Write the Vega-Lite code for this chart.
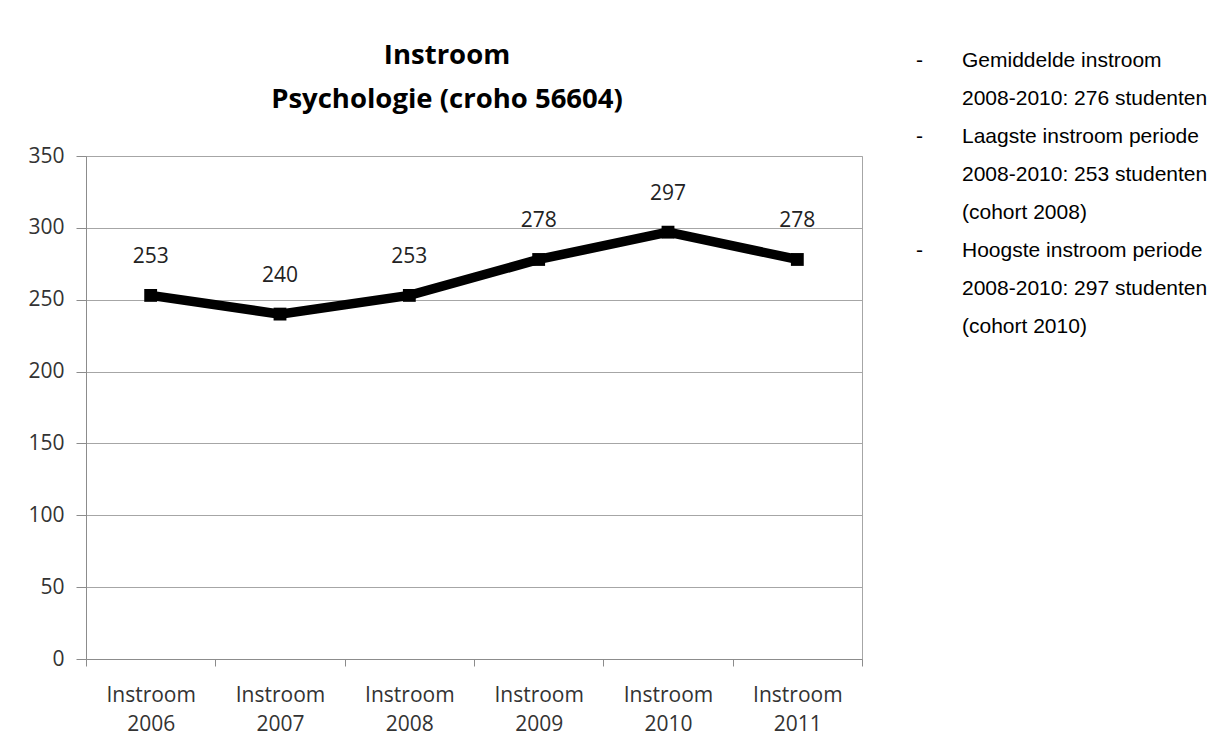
{
  "$schema": "https://vega.github.io/schema/vega-lite/v6.json",
  "background": "white",
  "padding": {"left": 27, "top": 34, "right": 0, "bottom": 0},
  "config": {
    "font": "Open Sans",
    "view": {"stroke": "#a6a6a6", "strokeWidth": 1}
  },
  "spacing": 53,
  "hconcat": [
    {
      "spacing": 22,
      "vconcat": [
        {
          "width": 722,
          "height": 88,
          "view": {"stroke": null},
          "data": {
            "values": [
              {"line": 1, "title": "Instroom"},
              {"line": 2, "title": "Psychologie (croho 56604)"}
            ]
          },
          "mark": {"type": "text", "align": "center", "baseline": "middle", "font": "Open Sans", "fontSize": 27.5, "fontWeight": "bold", "color": "black"},
          "encoding": {
            "y": {"field": "line", "type": "ordinal", "scale": {"type": "point", "padding": 0.5}, "axis": null},
            "text": {"field": "title"}
          }
        },
        {
          "width": 776,
          "height": 503,
          "data": {
            "values": [
              {"year": "2006", "instroom": 253},
              {"year": "2007", "instroom": 240},
              {"year": "2008", "instroom": 253},
              {"year": "2009", "instroom": 278},
              {"year": "2010", "instroom": 297},
              {"year": "2011", "instroom": 278}
            ]
          },
          "encoding": {
            "x": {
              "field": "year",
              "type": "nominal",
              "sort": null,
              "scale": {"paddingInner": 0, "paddingOuter": 0},
              "axis": {
                "title": null,
                "labelAngle": 0,
                "tickBand": "extent",
                "tickSize": 7,
                "tickColor": "#8c8c8c",
                "domainColor": "#8c8c8c",
                "labelExpr": "datum.value ? ['Instroom', datum.value] : ''",
                "labelLineHeight": 29,
                "labelFont": "Open Sans",
                "labelFontSize": 21,
                "labelColor": "#333333",
                "labelPadding": 18
              }
            },
            "y": {
              "field": "instroom",
              "type": "quantitative",
              "scale": {"domain": [0, 350], "nice": false},
              "axis": {
                "title": null,
                "values": [0, 50, 100, 150, 200, 250, 300, 350],
                "grid": true,
                "gridColor": "#a6a6a6",
                "domainColor": "#8c8c8c",
                "tickColor": "#8c8c8c",
                "tickSize": 10,
                "labelPadding": 12,
                "labelFont": "Open Sans",
                "labelFontSize": 21,
                "labelColor": "#333333"
              }
            }
          },
          "layer": [
            {"mark": {"type": "line", "color": "black", "strokeWidth": 9.5}},
            {"mark": {"type": "point", "shape": "square", "filled": true, "color": "black", "size": 165, "opacity": 1}},
            {
              "mark": {"type": "text", "dy": -38, "fontSize": 21, "font": "Open Sans", "color": "#222222"},
              "encoding": {"text": {"field": "instroom", "type": "quantitative"}}
            }
          ]
        }
      ]
    },
    {
      "width": 46,
      "height": 320,
      "view": {"stroke": null},
      "data": {
        "values": [
          {"line": 1, "col": "dash", "label": "-"},
          {"line": 1, "col": "text", "label": "Gemiddelde instroom"},
          {"line": 2, "col": "text", "label": "2008-2010: 276 studenten"},
          {"line": 3, "col": "dash", "label": "-"},
          {"line": 3, "col": "text", "label": "Laagste instroom periode"},
          {"line": 4, "col": "text", "label": "2008-2010: 253 studenten"},
          {"line": 5, "col": "text", "label": "(cohort 2008)"},
          {"line": 6, "col": "dash", "label": "-"},
          {"line": 6, "col": "text", "label": "Hoogste instroom periode"},
          {"line": 7, "col": "text", "label": "2008-2010: 297 studenten"},
          {"line": 8, "col": "text", "label": "(cohort 2010)"}
        ]
      },
      "mark": {"type": "text", "align": "left", "baseline": "middle", "font": "Liberation Sans", "fontSize": 21, "color": "black"},
      "encoding": {
        "x": {"field": "col", "type": "ordinal", "scale": {"type": "point", "domain": ["dash", "text"], "padding": 0}, "axis": null},
        "y": {"field": "line", "type": "ordinal", "scale": {"type": "point", "padding": 0.71}, "axis": null},
        "text": {"field": "label"}
      }
    }
  ]
}
